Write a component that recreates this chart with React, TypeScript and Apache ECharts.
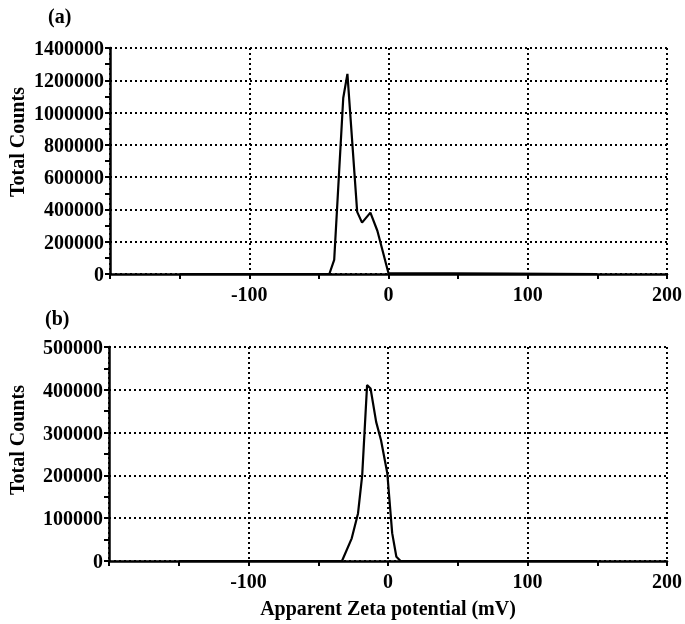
import React, { useEffect, useRef } from "react";
import * as echarts from "echarts";

const potentialA = [-150, -42.5, -39, -32.5, -29.5, -22.5, -19, -13, -8, -2.5, 0, 150];
const countsA = [0, 0, 87000, 1090000, 1240000, 385000, 318000, 380000, 268000, 87000, 5000, 0];

const potentialB = [-150, -33, -26, -21.5, -18.5, -15, -12.5, -8.5, -5, -0.5, 3, 6, 9, 150];
const countsB = [0, 0, 53000, 111000, 200000, 411000, 403000, 325000, 282000, 205000, 65000, 10000, 0, 0];

const xTicksShown = [-100, 0, 100, 200];
const panelLabels = ["(a)", "(b)"];
const yTitle = "Total Counts";
const xTitle = "Apparent Zeta potential (mV)";

const FONT = "Liberation Serif";

export default function App() {
  const ref = useRef<HTMLDivElement>(null);
  useEffect(() => {
    if (!ref.current) return;
    const chart = echarts.init(ref.current, null, { renderer: "svg" });
    const dotted = { color: "#000", width: 2, type: [2, 3] as any };
    const mkX = (gridIndex: number) => ({
      type: "value" as const,
      gridIndex,
      min: -200,
      max: 200,
      interval: 100,
      axisLine: { onZero: false, lineStyle: { color: "#000", width: 2.5 } },
      axisTick: { show: true, length: 5, lineStyle: { color: "#000", width: 2 } },
      minorTick: { show: true, splitNumber: 2, length: 5, lineStyle: { color: "#000", width: 2 } },
      splitLine: { show: true, lineStyle: dotted },
      axisLabel: {
        margin: 10,
        fontFamily: FONT,
        fontWeight: "bold" as const,
        fontSize: 20,
        color: "#000",
        formatter: (v: number) => (xTicksShown.includes(v) ? String(v) : ""),
      },
    });
    const mkY = (gridIndex: number, max: number, interval: number) => ({
      type: "value" as const,
      gridIndex,
      min: 0,
      max,
      interval,
      axisLine: { show: true, onZero: false, lineStyle: { color: "#000", width: 2.5 } },
      axisTick: { show: true, length: 5, lineStyle: { color: "#000", width: 2 } },
      minorTick: { show: true, splitNumber: 2, length: 5, lineStyle: { color: "#000", width: 2 } },
      splitLine: { show: true, lineStyle: dotted },
      axisLabel: {
        margin: 6,
        fontFamily: FONT,
        fontWeight: "bold" as const,
        fontSize: 20,
        color: "#000",
        formatter: (v: number) => String(v),
      },
    });
    const textStyle = (extra: any) => ({
      fontFamily: FONT,
      fontWeight: "bold",
      fontSize: 20,
      fill: "#000",
      ...extra,
    });
    chart.setOption({
      animation: false,
      grid: [
        { left: 110, top: 48, right: 14, bottom: 350 },
        { left: 109, top: 347, right: 16, bottom: 63 },
      ],
      xAxis: [mkX(0), mkX(1)],
      yAxis: [mkY(0, 1400000, 200000), mkY(1, 500000, 100000)],
      series: [
        {
          type: "line",
          xAxisIndex: 0,
          yAxisIndex: 0,
          data: potentialA.map((x, i) => [x, countsA[i]]),
          showSymbol: false,
          lineStyle: { color: "#000", width: 2.2 },
        },
        {
          type: "line",
          xAxisIndex: 1,
          yAxisIndex: 1,
          data: potentialB.map((x, i) => [x, countsB[i]]),
          showSymbol: false,
          lineStyle: { color: "#000", width: 2.2 },
        },
      ],
      graphic: [
        { type: "text", x: 48, y: 16, style: textStyle({ text: panelLabels[0], textVerticalAlign: "middle" }) },
        { type: "text", x: 45, y: 318, style: textStyle({ text: panelLabels[1], textVerticalAlign: "middle" }) },
        {
          type: "text",
          x: 17,
          y: 142,
          rotation: Math.PI / 2,
          style: textStyle({ text: yTitle, textAlign: "center", textVerticalAlign: "middle" }),
        },
        {
          type: "text",
          x: 17,
          y: 440,
          rotation: Math.PI / 2,
          style: textStyle({ text: yTitle, textAlign: "center", textVerticalAlign: "middle" }),
        },
        {
          type: "text",
          x: 388,
          y: 608,
          style: textStyle({ text: xTitle, textAlign: "center", textVerticalAlign: "middle" }),
        },
      ],
    });
    return () => chart.dispose();
  }, []);
  return <div ref={ref} style={{ width: 685, height: 624, position: "fixed", left: 0, top: 0 }} />;
}
